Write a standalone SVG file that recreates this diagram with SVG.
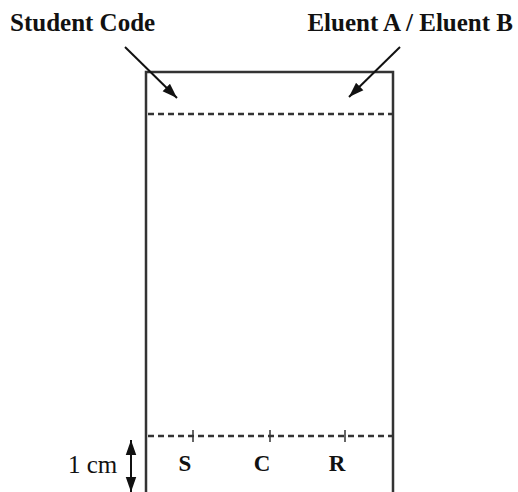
<svg xmlns="http://www.w3.org/2000/svg" width="518" height="492" viewBox="0 0 518 492">
<defs>
<marker id="ahb" viewBox="0 0 10 10" refX="10" refY="5" markerWidth="15" markerHeight="15" markerUnits="userSpaceOnUse" orient="auto-start-reverse"><path d="M0,1.5 L10,5 L0,8.5 z" fill="#111"/></marker>
</defs>
<style>
.t{font-family:"Liberation Serif","Times New Roman",serif;font-weight:bold;fill:#111}
.n{font-family:"Liberation Serif","Times New Roman",serif;fill:#111}
.ln{stroke:#333;stroke-width:2.5;fill:none}
.d{stroke:#333;stroke-width:2.5;stroke-dasharray:6,4;fill:none}
.tk{stroke:#333;stroke-width:1.5}
.ar{stroke:#111;stroke-width:2;fill:none}
</style>
<g id="plate">
<path class="ln" d="M146,492 L146,72 L393,72 L393,492"/>
<line class="d" x1="148" y1="114" x2="392" y2="114"/>
<line class="d" x1="148" y1="436" x2="392" y2="436"/>
</g>
<g id="ticks">
<line class="tk" x1="193" y1="430" x2="193" y2="442"/>
<line class="tk" x1="270" y1="430" x2="270" y2="442"/>
<line class="tk" x1="345" y1="430" x2="345" y2="442"/>
</g>
<g id="labels">
<text class="t" x="10" y="31" font-size="25">Student Code</text>
<text class="t" x="513" y="31" font-size="25" text-anchor="end">Eluent A / Eluent B</text>
<text class="t" x="185" y="471" font-size="23" text-anchor="middle">S</text>
<text class="t" x="262" y="471" font-size="23" text-anchor="middle">C</text>
<text class="t" x="337" y="471" font-size="23" text-anchor="middle">R</text>
<text class="n" x="68" y="473" font-size="25">1 cm</text>
</g>
<g id="connectors">
<line class="ar" x1="125" y1="47" x2="177" y2="98" marker-end="url(#ahb)"/>
<line class="ar" x1="400" y1="47" x2="349" y2="97" marker-end="url(#ahb)"/>
<line class="ar" x1="131" y1="440" x2="131" y2="492" marker-start="url(#ahb)" marker-end="url(#ahb)"/>
</g>
</svg>
